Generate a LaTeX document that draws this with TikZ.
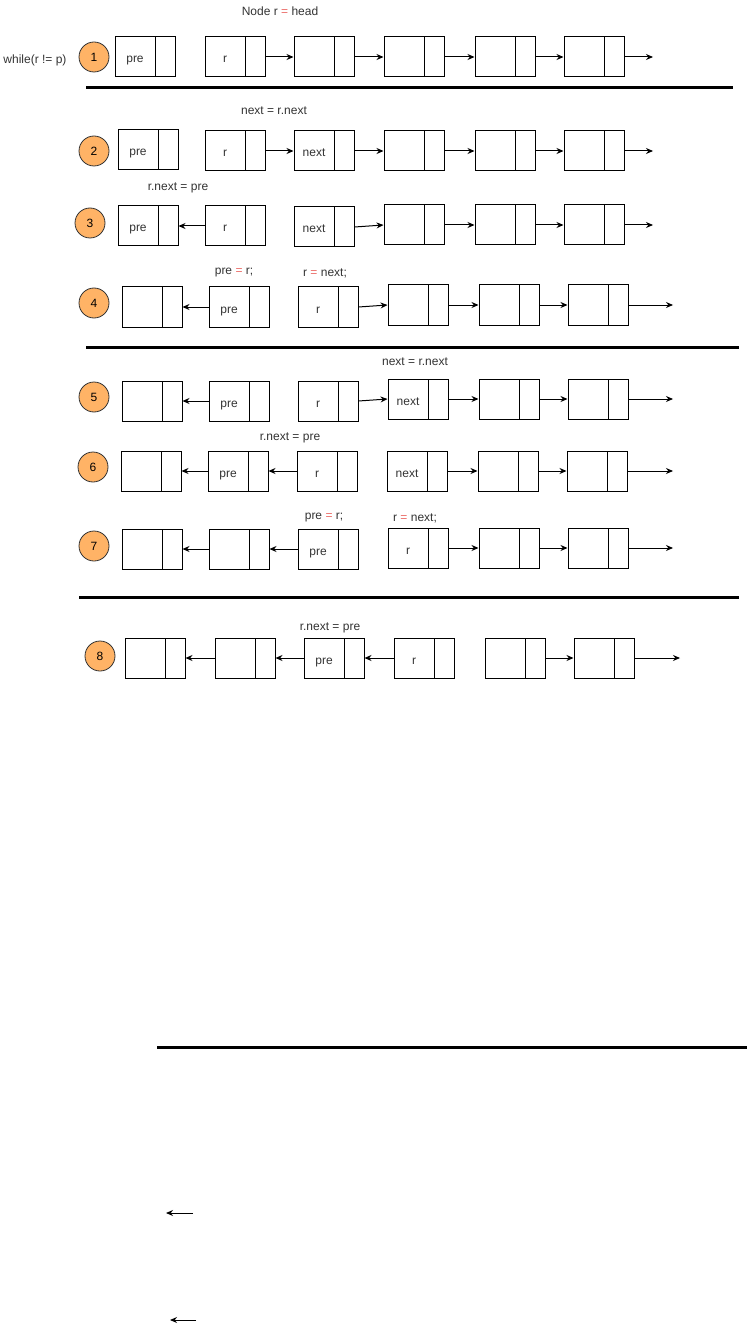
\documentclass[tikz,border=0pt]{standalone}
\usepackage{fontspec}
\setmainfont{Liberation Sans}
\usetikzlibrary{arrows.meta}
\definecolor{eqred}{HTML}{EA6B66}
\definecolor{stepfill}{HTML}{FFB366}
\definecolor{txt}{HTML}{333333}

\begin{document}
\begin{tikzpicture}[x=1pt,y=-1pt,
      font=\fontsize{12}{14}\selectfont,
      lnode/.style={draw,line width=1pt,minimum width=60pt,minimum height=40pt,inner sep=0pt,
        path picture={\draw[line width=1pt] ([xshift=-20pt]path picture bounding box.north east)
          -- ([xshift=-20pt]path picture bounding box.south east);},
        label={[xshift=-10pt,yshift=-3pt,text height=8.5pt,text depth=2.5pt,inner sep=0pt,text=txt]center:#1}},
      lnode/.default={},
      stepno/.style={circle,draw=txt,line width=0.8pt,fill=stepfill,minimum size=30pt,inner sep=0pt},
      ptr/.style={line width=1pt,-{Stealth[length=7pt,width=6pt]}},
      sep/.style={line width=3pt},
      note/.style={text=txt}]
      \useasboundingbox (0,0) rectangle (750,1329);

      % step 1
      \node[note] (head) at (280,11) {Node r {\color{eqred}=} head};
      \node[note] (loop) at (35,60) {while(r != p)};
      \node[stepno] (s1) at (94,57) {1};
      \node[lnode=pre] (n1a) at (145,57) {};
      \node[lnode=r] (n1b) at (235,57) {};
      \node[lnode] (n1c) at (324,57) {};
      \node[lnode] (n1d) at (414,57) {};
      \node[lnode] (n1e) at (505,57) {};
      \node[lnode] (n1f) at (594,57) {};
      \coordinate (t1) at (653,57);
      \draw[ptr] (n1b.east) -- (n1c.west);
      \draw[ptr] (n1c.east) -- (n1d.west);
      \draw[ptr] (n1d.east) -- (n1e.west);
      \draw[ptr] (n1e.east) -- (n1f.west);
      \draw[ptr] (n1f.east) -- (t1);
      \draw[sep] (86,88) -- (733,88);

      % step 2
      \node[note] (l2) at (274,111) {next = r.next};
      \node[stepno] (s2) at (94,151) {2};
      \node[lnode=pre] (n2a) at (148,150) {};
      \node[lnode=r] (n2b) at (235,151) {};
      \node[lnode=next] (n2c) at (324,151) {};
      \node[lnode] (n2d) at (414,151) {};
      \node[lnode] (n2e) at (505,151) {};
      \node[lnode] (n2f) at (594,151) {};
      \coordinate (t2) at (653,151);
      \draw[ptr] (n2b.east) -- (n2c.west);
      \draw[ptr] (n2c.east) -- (n2d.west);
      \draw[ptr] (n2d.east) -- (n2e.west);
      \draw[ptr] (n2e.east) -- (n2f.west);
      \draw[ptr] (n2f.east) -- (t2);

      % step 3
      \node[note] (l3) at (178,188) {r.next = pre};
      \node[stepno] (s3) at (90,223) {3};
      \node[lnode=pre] (n3a) at (148,226) {};
      \node[lnode=r] (n3b) at (235,226) {};
      \node[lnode=next] (n3c) at (324,227) {};
      \node[lnode] (n3d) at (414,225) {};
      \node[lnode] (n3e) at (505,225) {};
      \node[lnode] (n3f) at (594,225) {};
      \coordinate (t3) at (653,225);
      \draw[ptr] (n3b.west) -- (n3a.east);
      \draw[ptr] (n3c.east) -- (n3d.west);
      \draw[ptr] (n3d.east) -- (n3e.west);
      \draw[ptr] (n3e.east) -- (n3f.west);
      \draw[ptr] (n3f.east) -- (t3);

      % step 4
      \node[note] (l4a) at (234,273) {pre {\color{eqred}=} r;};
      \node[note] (l4b) at (325,273) {r {\color{eqred}=} next;};
      \node[stepno] (s4) at (94,303) {4};
      \node[lnode] (n4a) at (152,307) {};
      \node[lnode=pre] (n4b) at (239,307) {};
      \node[lnode=r] (n4c) at (328,307) {};
      \node[lnode] (n4d) at (418,305) {};
      \node[lnode] (n4e) at (509,305) {};
      \node[lnode] (n4f) at (598,305) {};
      \coordinate (t4) at (673,305);
      \draw[ptr] (n4b.west) -- (n4a.east);
      \draw[ptr] (n4c.east) -- (n4d.west);
      \draw[ptr] (n4d.east) -- (n4e.west);
      \draw[ptr] (n4e.east) -- (n4f.west);
      \draw[ptr] (n4f.east) -- (t4);
      \draw[sep] (86,347) -- (739,347);

      % step 5
      \node[note] (l5) at (415,362) {next = r.next};
      \node[stepno] (s5) at (94,397) {5};
      \node[lnode] (n5a) at (152,401) {};
      \node[lnode=pre] (n5b) at (239,401) {};
      \node[lnode=r] (n5c) at (328,401) {};
      \node[lnode=next] (n5d) at (418,399) {};
      \node[lnode] (n5e) at (509,399) {};
      \node[lnode] (n5f) at (598,399) {};
      \coordinate (t5) at (673,399);
      \draw[ptr] (n5b.west) -- (n5a.east);
      \draw[ptr] (n5c.east) -- (n5d.west);
      \draw[ptr] (n5d.east) -- (n5e.west);
      \draw[ptr] (n5e.east) -- (n5f.west);
      \draw[ptr] (n5f.east) -- (t5);

      % step 6
      \node[note] (l6) at (290,438) {r.next = pre};
      \node[stepno] (s6) at (93,467) {6};
      \node[lnode] (n6a) at (151,471) {};
      \node[lnode=pre] (n6b) at (238,471) {};
      \node[lnode=r] (n6c) at (327,471) {};
      \node[lnode=next] (n6d) at (417,471) {};
      \node[lnode] (n6e) at (508,471) {};
      \node[lnode] (n6f) at (597,471) {};
      \coordinate (t6) at (673,471);
      \draw[ptr] (n6b.west) -- (n6a.east);
      \draw[ptr] (n6c.west) -- (n6b.east);
      \draw[ptr] (n6d.east) -- (n6e.west);
      \draw[ptr] (n6e.east) -- (n6f.west);
      \draw[ptr] (n6f.east) -- (t6);

      % step 7
      \node[note] (l7a) at (324,518) {pre {\color{eqred}=} r;};
      \node[note] (l7b) at (415,518) {r {\color{eqred}=} next;};
      \node[stepno] (s7) at (94,546) {7};
      \node[lnode] (n7a) at (152,549) {};
      \node[lnode] (n7b) at (239,549) {};
      \node[lnode=pre] (n7c) at (328,549) {};
      \node[lnode=r] (n7d) at (418,548) {};
      \node[lnode] (n7e) at (509,548) {};
      \node[lnode] (n7f) at (598,548) {};
      \coordinate (t7) at (673,548);
      \draw[ptr] (n7b.west) -- (n7a.east);
      \draw[ptr] (n7c.west) -- (n7b.east);
      \draw[ptr] (n7d.east) -- (n7e.west);
      \draw[ptr] (n7e.east) -- (n7f.west);
      \draw[ptr] (n7f.east) -- (t7);
      \draw[sep] (79,597) -- (739,597);

      % step 8
      \node[note] (l8) at (330,628) {r.next = pre};
      \node[stepno] (s8) at (100,656) {8};
      \node[lnode] (n8a) at (155,658) {};
      \node[lnode] (n8b) at (245,658) {};
      \node[lnode=pre] (n8c) at (334,658) {};
      \node[lnode=r] (n8d) at (424,658) {};
      \node[lnode] (n8e) at (515,658) {};
      \node[lnode] (n8f) at (604,658) {};
      \coordinate (t8) at (680,658);
      \draw[ptr] (n8b.west) -- (n8a.east);
      \draw[ptr] (n8c.west) -- (n8b.east);
      \draw[ptr] (n8d.west) -- (n8c.east);
      \draw[ptr] (n8e.east) -- (n8f.west);
      \draw[ptr] (n8f.east) -- (t8);

      % leftovers below
      \draw[sep] (157,1047) -- (747,1047);
      \coordinate (u1) at (193,1213);
      \coordinate (v1) at (166,1213);
      \coordinate (u2) at (196,1320);
      \coordinate (v2) at (170,1320);
      \draw[ptr] (u1) -- (v1);
      \draw[ptr] (u2) -- (v2);
    \end{tikzpicture}
\end{document}
